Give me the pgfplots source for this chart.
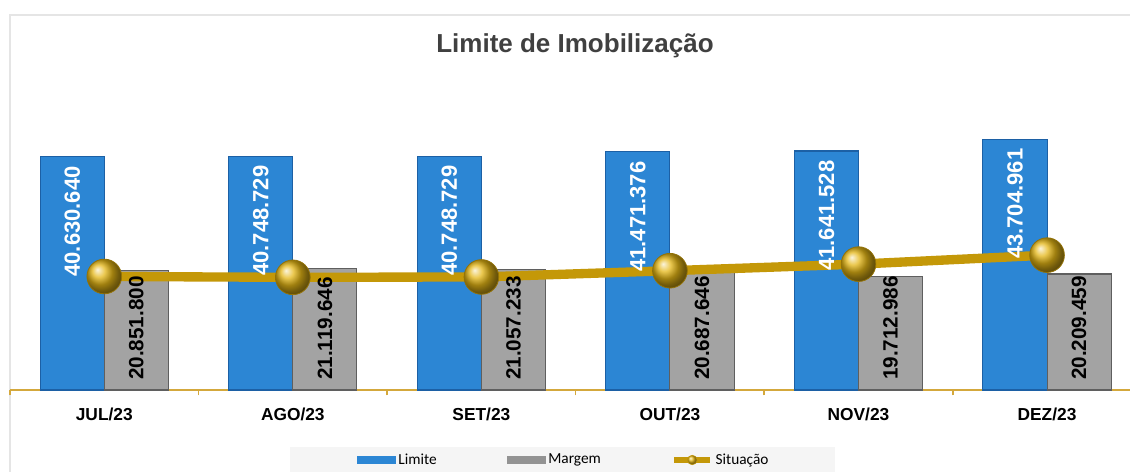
\documentclass[border=0pt]{standalone}
\usepackage{pgfplots}
\pgfplotsset{compat=1.18}
\usepackage{pgfplotstable}
\usepackage{fontspec}
\setmainfont{Liberation Sans}
\newfontfamily\legfont{Carlito}
\definecolor{limblue}{RGB}{44,134,212}
\definecolor{limblueD}{RGB}{28,96,165}
\definecolor{margray}{RGB}{163,163,163}
\definecolor{margrayD}{RGB}{95,95,95}
\definecolor{sitgold}{RGB}{196,152,8}
\definecolor{ballgold}{RGB}{228,182,22}
\definecolor{axgold}{RGB}{212,168,60}
\definecolor{titlegray}{RGB}{64,64,64}

\pgfplotstableread{
x lim mar sit limlab marlab
0 40630640 20851800 19778840 40.630.640 20.851.800
1 40748729 21119646 19629083 40.748.729 21.119.646
2 40748729 21057233 19691496 40.748.729 21.057.233
3 41471376 20687646 20783730 41.471.376 20.687.646
4 41641528 19712986 21928542 41.641.528 19.712.986
5 43704961 20209459 23495502 43.704.961 20.209.459
}\data

\begin{document}
\begin{tikzpicture}
\useasboundingbox (0,0) rectangle (847.5pt,353.25pt);
\fill[white] (0,0) rectangle (847.5pt,353.25pt);
\begin{scope}[yshift=353.25pt, x=0.75pt, y=-0.75pt]
\draw[gray!20, line width=2pt] (10,480) -- (10,15) -- (1140,15);
\fill[gray!8] (290,447) rectangle (835,480);
\node[font=\bfseries\fontsize{19.5}{22}\selectfont, text=titlegray] at (575,46) {Limite de Imobilização};
\end{scope}
\begin{axis}[
 at={(7.5pt,60.75pt)}, anchor=south west,
 scale only axis, width=840pt, height=215.25pt,
 xmin=-0.5, xmax=5.44, ymin=0, ymax=50000000,
 axis x line*=bottom, axis y line=none,
 x axis line style={-, draw=axgold, line width=1.2pt},
 xtick={0,...,5}, xticklabels={JUL/23,AGO/23,SET/23,OUT/23,NOV/23,DEZ/23},
 major x tick style={draw=none},
 minor xtick={-0.5,0.5,...,4.5},
 minor x tick style={draw=axgold, line width=1.2pt},
 minor tick length=4pt,
 tick align=outside,
 xticklabel style={font=\bfseries\fontsize{13}{15}\selectfont, yshift=-6pt},
 clip=false,
 legend columns=3,
 legend cell align=left,
 legend style={at={(0.3098,-0.2439)}, anchor=west, draw=none, fill=none, inner sep=0pt,
   font=\legfont\fontsize{11.5}{13}\selectfont,
   /tikz/every even column/.append style={column sep=51pt}},
]
\addplot[ybar, bar width=0.34, bar shift=0pt, fill=limblue, draw=limblueD, line width=0.8pt,
  legend image code/.code={\fill[limblue] (0pt,-2.5pt) rectangle (28pt,2.5pt);}]
  table[x expr=\thisrow{x}-0.17, y=lim]{\data};
\addlegendentry{Limite}
\addplot[ybar, bar width=0.34, bar shift=0pt, fill=margray, draw=margrayD, line width=0.8pt,
  legend image code/.code={\fill[margray!90!black] (0pt,-2.5pt) rectangle (28pt,2.5pt);}]
  table[x expr=\thisrow{x}+0.17, y=mar]{\data};
\addlegendentry{Margem}
\addplot[sitgold, line width=7pt, mark=ball, mark size=13pt,
  mark options={ball color=ballgold, line width=0.6pt, draw=sitgold!75!black},
  legend image code/.code={\draw[sitgold, line width=4pt] (0pt,0pt) -- (27pt,0pt);
    \shade[ball color=ballgold, line width=0.4pt] (13.5pt,0pt) circle (3.6pt);}]
  table[x=x, y=sit]{\data};
\addlegendentry{Situação}
\addplot[draw=none, forget plot, nodes near coords={\pgfplotspointmeta}, point meta=explicit symbolic,
  every node near coord/.style={rotate=90, anchor=east, font=\bfseries\fontsize{16.5}{18}\selectfont, text=white, inner sep=0pt, xshift=-7pt}]
  table[x expr=\thisrow{x}-0.17, y=lim, meta=limlab]{\data};
\addplot[draw=none, forget plot, nodes near coords={\pgfplotspointmeta}, point meta=explicit symbolic,
  every node near coord/.style={rotate=90, anchor=west, font=\bfseries\fontsize{15.5}{18}\selectfont, text=black, inner sep=0pt, xshift=7.5pt}]
  table[x expr=\thisrow{x}+0.17, y expr=0, meta=marlab]{\data};
\end{axis}
\end{tikzpicture}
\end{document}
